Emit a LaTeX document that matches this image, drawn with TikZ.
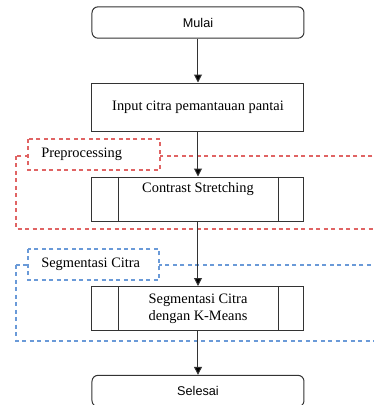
\documentclass[tikz,border=0pt]{standalone}
\usepackage{fontspec}
\setmainfont{Liberation Serif}
\newfontfamily\sansf{Liberation Sans}
\usetikzlibrary{arrows.meta,positioning}
\definecolor{lineg}{HTML}{333333}
\definecolor{redd}{HTML}{E06464}
\definecolor{blued}{HTML}{6A9AD8}
\tikzset{
  termbox/.style={draw=lineg,line width=0.75pt,rounded corners=4.5pt,minimum width=159pt,minimum height=23.5pt,font=\sansf\fontsize{9.5}{11}\selectfont,inner sep=0pt},
  procbox/.style={draw=lineg,line width=0.75pt,minimum width=159pt,minimum height=36pt,font=\fontsize{10.8}{13}\selectfont,inner sep=0pt,align=center},
  subbox/.style={draw=lineg,line width=0.75pt,minimum width=159pt,minimum height=33pt,font=\fontsize{10.8}{13}\selectfont,inner sep=0pt,align=center},
  txt/.style={font=\fontsize{10.8}{13}\selectfont,inner sep=0pt},
  regred/.style={draw=redd,line width=0.85pt,dash pattern=on 3pt off 2.6pt},
  regblue/.style={draw=blued,line width=0.85pt,dash pattern=on 3pt off 2.6pt},
  flow/.style={draw=lineg,line width=0.75pt,-{Triangle[length=6pt,width=6pt,fill=black]}},
  sideln/.style={draw=lineg,line width=0.75pt}
}
\begin{document}
\begin{tikzpicture}[x=0.75pt,y=-0.75pt]
\useasboundingbox (0,0) rectangle (374,405);
\clip (0,0) rectangle (374,405);
\fill[white] (0,0) rectangle (374,405);
% regions
\draw[regred] (16,156) rectangle (390,229);
\draw[regblue] (16,265) rectangle (390,341);
\filldraw[regred,fill=white] (28,139) rectangle (160,170);
\node[txt,anchor=west] (lpt) at (41,154.5) {Preprocessing};
\filldraw[regblue,fill=white] (28,249) rectangle (159,280);
\node[txt,anchor=west] (lst) at (41,264.5) {Segmentasi Citra};
% nodes
\node[termbox] (mulai) at (198,22.5) {Mulai};
\node[procbox] (input) at (198,107) {Input citra pemantauan pantai};
\node[subbox] (cs) at (198,199) {};
\node[txt] (cst) at (198,189.5) {Contrast Stretching};
\draw[sideln] ([xshift=20.25pt]cs.north west) -- ([xshift=20.25pt]cs.south west);
\draw[sideln] ([xshift=-19.5pt]cs.north east) -- ([xshift=-19.5pt]cs.south east);
\node[subbox] (km) at (198,308.5) {Segmentasi Citra\\dengan K-Means};
\draw[sideln] ([xshift=20.25pt]km.north west) -- ([xshift=20.25pt]km.south west);
\draw[sideln] ([xshift=-19.5pt]km.north east) -- ([xshift=-19.5pt]km.south east);
\node[termbox] (selesai) at (198,391) {Selesai};
% connectors
\draw[flow] (mulai) -- (input);
\draw[flow] (input) -- (cs);
\draw[flow] (cs) -- (km);
\draw[flow] (km) -- (selesai);
\end{tikzpicture}
\end{document}
